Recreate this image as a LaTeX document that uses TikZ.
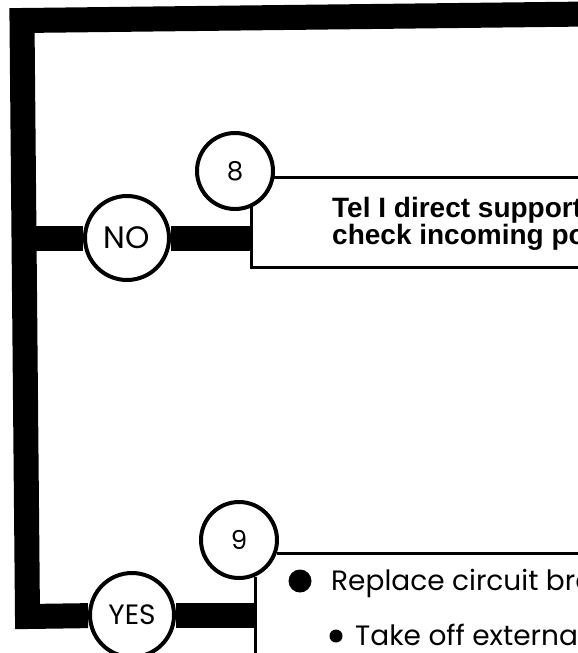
\documentclass[tikz,border=0pt]{standalone}
\usepackage{fontspec}
\setmainfont{Liberation Sans}
\newfontfamily\gothic{Poppins}
\usetikzlibrary{positioning, backgrounds}

\tikzset{
    step circle/.style={circle, draw, line width=4pt, fill=white, inner sep=0pt,
        minimum size=76pt, font=\gothic\fontsize{26}{26}\selectfont},
    answer circle/.style={step circle, minimum size=84pt},
    bus/.style={line width=25pt, line join=miter},
    rule/.style={line width=3pt},
    boldtext/.style={anchor=base west, inner sep=0pt, font=\bfseries\fontsize{28}{28}\selectfont},
    plaintext/.style={anchor=base west, inner sep=0pt, font=\gothic\fontsize{28}{28}\selectfont}
}

\begin{document}
\begin{tikzpicture}[x=1pt, y=-1pt]
    \useasboundingbox (0,0) rectangle (578,653);

    % Answer and step circles
    \node[answer circle, font=\gothic\fontsize{31}{31}\selectfont] (no) at (127,238) {NO};
    \node[step circle] (s8) at (235,171) {8};
    \node[answer circle, font=\gothic\fontsize{28}{28}\selectfont] (yes) at (132,615) {YES};
    \node[step circle] (s9) at (239,540) {9};

    % Frame corners and box edges
    \coordinate (topR) at (590,14);
    \coordinate (topL) at (22,20.5);
    \coordinate (botL) at (27.5,616.5);
    \coordinate (b8R) at (590,267);
    \coordinate (b9B) at (255,665);

    % Thick frame lines behind the circles
    \begin{scope}[on background layer]
        \draw[bus] (topR) -- (topL) -- (botL) -- (yes);
        \draw[bus] (no -| 23.5,0) -- (no);
        \draw[bus] (no) -- (no -| s8.-65);
        \draw[bus] (yes) -- (yes -| s9.-66);
    \end{scope}

    % Step 8 box
    \draw[rule] (s8.-10) -- (s8.-10 -| topR);
    \draw[rule] (s8.-65) |- (b8R);
    \node[boldtext] (t8a) at (332,217) {Tel I direct support};
    \node[boldtext] (t8b) at (332,244) {check incoming power};

    % Step 9 box
    \draw[rule] (s9.-19) -- (s9.-19 -| topR);
    \draw[rule] (s9.-66) -- (s9.-66 |- b9B);
    \fill (300,581) circle (11.5);
    \node[plaintext] (t9a) at (331,590) {Replace circuit breaker};
    \fill (336,636) circle (6.5);
    \node[plaintext] (t9b) at (355,645) {Take off external};
\end{tikzpicture}
\end{document}
